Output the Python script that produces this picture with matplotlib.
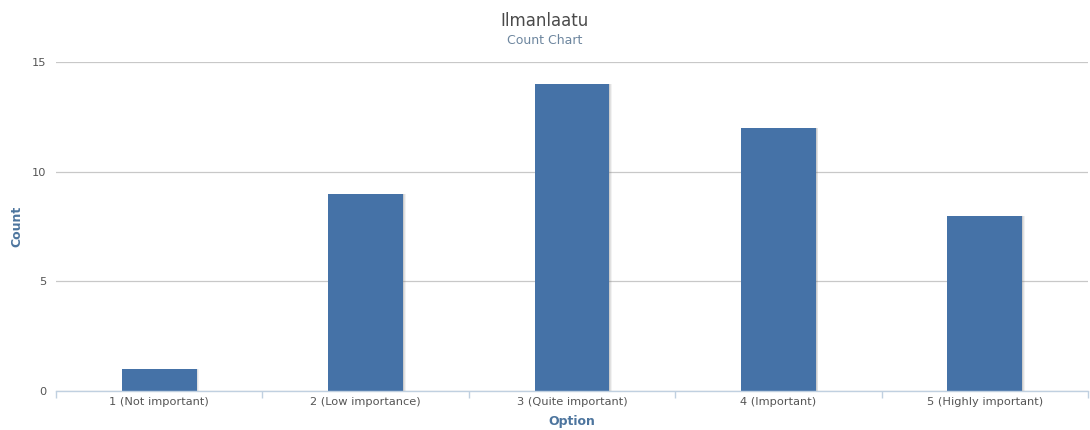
import matplotlib.pyplot as plt
import numpy as np

# Count of answers per importance option
options = ["1 (Not important)", "2 (Low importance)", "3 (Quite important)",
           "4 (Important)", "5 (Highly important)"]
counts = [1, 9, 14, 12, 8]
yticks = [0, 5, 10, 15]

fig = plt.figure(figsize=(10.9, 4.3), dpi=100)
ax = fig.add_axes([56 / 1090, 1 - 391 / 430, 1032 / 1090, 329 / 430])

x = np.arange(len(options))
bar_w = 0.363

# soft drop shadow behind each bar
for off, a in [(0.012, 0.10), (0.008, 0.15), (0.004, 0.2)]:
    ax.bar(x + off, counts, width=bar_w, color='#808080', alpha=a,
           zorder=2, linewidth=0)
ax.bar(x, counts, width=bar_w, color='#4572A7', zorder=3, linewidth=0)

ax.set_xlim(-0.5, len(options) - 0.5)
ax.set_ylim(0, 15)
ax.set_yticks(yticks)
ax.set_yticklabels([str(v) for v in yticks])
ax.grid(axis='y', color='#C8C8C8', linewidth=0.9, zorder=0)
ax.set_axisbelow(True)

for s in ['top', 'right', 'left']:
    ax.spines[s].set_visible(False)
ax.spines['bottom'].set_color('#C0D0E0')
ax.spines['bottom'].set_linewidth(1.0)
ax.spines['bottom'].set_zorder(4)

ax.set_xticks(x)
ax.set_xticklabels(options)
ax.set_xticks(np.arange(-0.5, len(options)), minor=True)
ax.tick_params(axis='x', which='major', length=0, pad=4, labelsize=8.2, labelcolor='#555555')
ax.tick_params(axis='x', which='minor', length=5, color='#C0D0E0', width=1)
ax.tick_params(axis='y', length=0, pad=7, labelsize=8.2, labelcolor='#555555')

ax.set_xlabel("Option", fontsize=9, fontweight='bold', color='#4D759E', labelpad=6)
ax.set_ylabel("Count", fontsize=9, fontweight='bold', color='#4D759E')
ax.yaxis.set_label_coords(-(56 - 23) / 1032, 0.5)

fig.text(0.5, 1 - 21 / 430, "Ilmanlaatu", ha='center', va='center',
         fontsize=12, color='#4A4A4A')
fig.text(0.5, 1 - 41 / 430, "Count Chart", ha='center', va='center',
         fontsize=9, color='#6D869F')

fig.savefig('out.png', dpi=100)
plt.close(fig)
